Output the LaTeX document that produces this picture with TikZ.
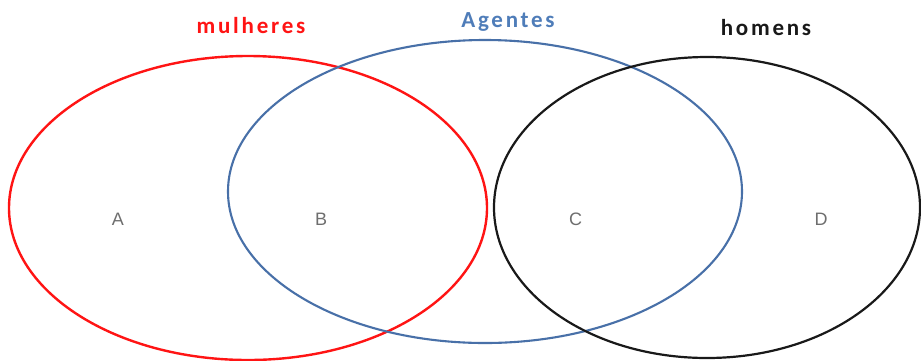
\documentclass[tikz,border=0pt]{standalone}
\usepackage{fontspec}
\setmainfont{Carlito}
\newfontfamily\lblfont[LetterSpace=12]{Carlito}
\newfontfamily\letfont{Liberation Sans}
\definecolor{vred}{RGB}{255,20,20}
\definecolor{vblue}{RGB}{72,112,168}
\definecolor{vbluetxt}{RGB}{79,125,185}
\definecolor{vblack}{RGB}{25,25,25}
\definecolor{vgray}{RGB}{110,110,110}
\tikzset{
  setline/.style={line width=2.4pt},
  setlabel/.style={font=\lblfont\fontsize{23}{23}\selectfont\bfseries, anchor=base, inner sep=0pt},
  region/.style={font=\letfont\fontsize{18}{18}\selectfont, text=vgray, inner sep=0pt}
}
\begin{document}
\begin{tikzpicture}[x=1pt,y=-1pt]
\useasboundingbox (0,0) rectangle (921,360);
\clip (0,0) rectangle (921,360);
\fill[white] (0,0) rectangle (921,360);
% sets
\draw[setline, vred] (248,208) ellipse [x radius=239, y radius=152];
\draw[setline, vblue, line width=2.1pt] (485,191.5) ellipse [x radius=257, y radius=151.5];
\draw[setline, vblack, line width=2.2pt] (707,207.5) ellipse [x radius=213, y radius=150.5];
% set labels
\node[setlabel, text=vred] (mul) at (251,33) {mulheres};
\node[setlabel, text=vbluetxt] (age) at (508,27) {Agentes};
\node[setlabel, text=vblack] (hom) at (766,35) {homens};
% region labels
\node[region] (A) at (118,219) {A};
\node[region] (B) at (321,219.5) {B};
\node[region] (C) at (575.5,219.5) {C};
\node[region] (D) at (821,219.5) {D};
\end{tikzpicture}
\end{document}
